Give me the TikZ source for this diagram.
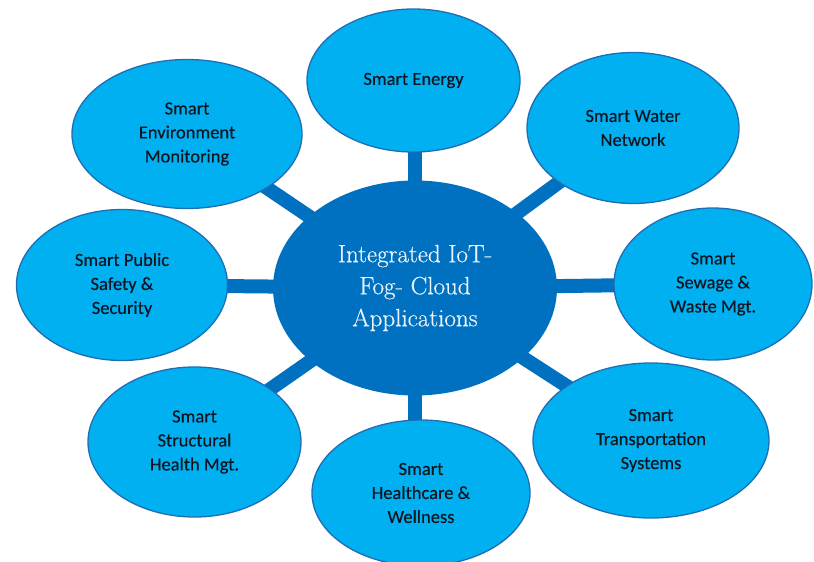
\documentclass[tikz,border=0pt]{standalone}
\usepackage{fontspec}
\setmainfont{Carlito}
\newfontfamily\leaffont[FakeBold=0.3]{Carlito}
\newfontfamily\centerfont[FakeBold=0.4]{Latin Modern Roman}
\usetikzlibrary{shapes.geometric,backgrounds}
\definecolor{outerfill}{RGB}{0,176,240}
\definecolor{outerline}{RGB}{31,110,180}
\definecolor{hubfill}{RGB}{0,112,192}
\definecolor{txt}{RGB}{14,22,34}
\definecolor{hubtxt}{RGB}{235,243,250}
\begin{document}
\begin{tikzpicture}[x=1pt,y=-1pt,
  leaf/.style={ellipse, draw=outerline, line width=1.3pt, fill=outerfill, inner sep=0pt,
    align=center, font=\leaffont\fontsize{18.5}{24}\selectfont, text=txt},
  hub/.style={ellipse, fill=hubfill, inner sep=0pt, align=center,
    font=\centerfont\fontsize{25}{32}\selectfont, text=hubtxt,
    minimum width=284pt, minimum height=215pt},
  link/.style={draw=hubfill, line width=14pt}]
\useasboundingbox (0,0) rectangle (814,562);
\node[hub] (c) at (415,288) {Integrated IoT-\\Fog- Cloud\\Applications};
\node[leaf, minimum width=213pt, minimum height=143pt] (en) at (413.5,80.5) {Smart Energy};
\node[leaf, minimum width=212pt, minimum height=151pt] (wa) at (633,128) {Smart Water\\Network};
\node[leaf, minimum width=198pt, minimum height=152pt] (se) at (713,284) {Smart\\Sewage \&\\Waste Mgt.};
\node[leaf, minimum width=236pt, minimum height=155pt] (tr) at (651,440.5) {Smart\\Transportation\\Systems};
\node[leaf, minimum width=218pt, minimum height=146pt] (he) at (421,493) {Smart\\Healthcare \&\\Wellness};
\node[leaf, minimum width=213pt, minimum height=150pt] (st) at (194.5,442) {Smart\\Structural\\Health Mgt.};
\node[leaf, minimum width=211pt, minimum height=151pt] (sa) at (122,285) {Smart Public\\Safety \&\\Security};
\node[leaf, minimum width=230pt, minimum height=149pt] (ev) at (187,134) {Smart\\Environment\\Monitoring};
\begin{pgfonlayer}{background}
\draw[link] (c.center) -- (c.center |- en.center);
\draw[link] (c.center) -- (wa.center);
\draw[link] (c.center) -- (se.center);
\draw[link] (c.center) -- (tr.center);
\draw[link] (c.center) -- (c.center |- he.center);
\draw[link] (c.center) -- (st.center);
\draw[link] (c.center) -- (sa.center);
\draw[link] (c.center) -- (ev.center);
\end{pgfonlayer}
\end{tikzpicture}
\end{document}
